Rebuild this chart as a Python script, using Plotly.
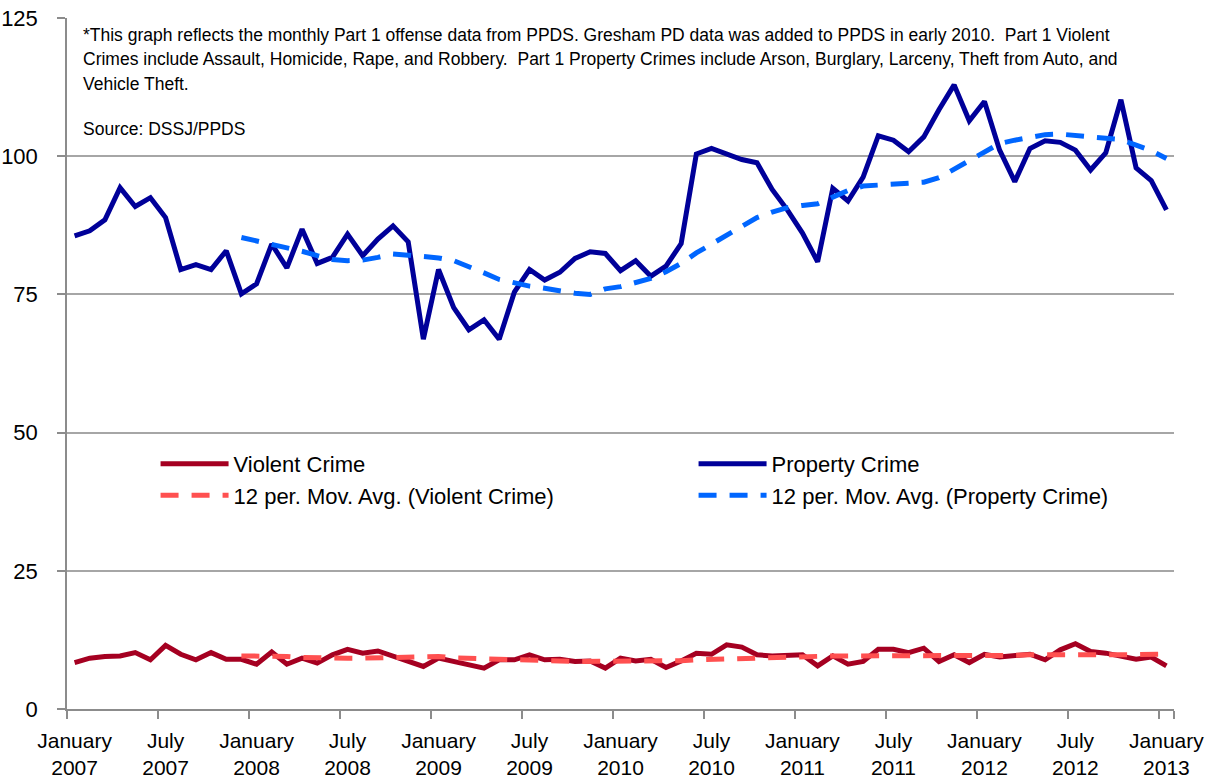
import plotly.graph_objects as go

# ---- data ----
years = list(range(2007, 2014))
month_names = ["January", "February", "March", "April", "May", "June", "July",
               "August", "September", "October", "November", "December"]
months = [f"{m} {y}" for y in years for m in month_names][:73]   # Jan 2007 .. Jan 2013

property_crime = [85.6, 86.5, 88.5, 94.3, 90.9, 92.5, 88.9, 79.5, 80.4, 79.5, 82.9, 75.1,
                  76.9, 84.1, 79.8, 86.8, 80.6, 81.7, 85.9, 82.0, 85.0, 87.4, 84.5, 66.9,
                  79.5, 72.6, 68.6, 70.4, 66.9, 75.4, 79.5, 77.6, 79.0, 81.5, 82.7, 82.4,
                  79.3, 81.1, 78.3, 80.1, 84.2, 100.4, 101.4, 100.5, 99.4, 98.8, 94.0, 90.3,
                  86.1, 80.9, 94.2, 91.9, 96.2, 103.7, 102.9, 100.8, 103.5, 108.4, 112.9, 106.4,
                  109.9, 101.1, 95.4, 101.4, 102.8, 102.5, 101.1, 97.5, 100.6, 110.2, 97.9, 95.6,
                  90.3]

violent_crime = [8.4, 9.2, 9.5, 9.6, 10.2, 8.9, 11.5, 9.9, 8.9, 10.2, 9.0, 9.0,
                 8.1, 10.3, 8.1, 9.2, 8.3, 9.8, 10.8, 10.1, 10.5, 9.6, 8.6, 7.7,
                 9.2, 8.6, 8.0, 7.4, 8.9, 8.9, 9.8, 8.9, 9.0, 8.6, 8.7, 7.4,
                 9.2, 8.7, 9.0, 7.5, 8.7, 10.1, 9.9, 11.6, 11.2, 9.8, 9.6, 9.6,
                 9.8, 7.8, 9.6, 8.1, 8.6, 10.8, 10.8, 10.2, 11.0, 8.6, 9.8, 8.4,
                 9.9, 9.4, 9.6, 9.9, 8.9, 10.7, 11.8, 10.4, 10.1, 9.5, 9.0, 9.4,
                 7.8]

# 12 period moving averages as drawn (start at December 2007)
property_ma = [85.3, 84.7, 84.1, 83.5, 82.8, 82.0, 81.3, 81.1, 81.2, 81.7, 82.3, 82.1,
               81.9, 81.6, 81.1, 80.1, 78.9, 77.7, 77.0, 76.5, 76.1, 75.6, 75.2, 75.0,
               76.0, 76.4, 77.1, 77.9, 79.1, 80.6, 82.5, 84.1, 85.8, 87.5, 88.9, 89.9,
               90.7, 91.1, 91.4, 92.6, 93.8, 94.6, 94.8, 94.8, 95.0, 95.3, 96.1, 97.7,
               99.1, 100.8, 102.3, 102.9, 103.5, 103.9, 104.0, 103.8, 103.6, 103.2, 103.0, 102.0,
               101.0, 99.6]
violent_ma = [9.6, 9.6, 9.6, 9.5, 9.3, 9.2, 9.2, 9.2, 9.2, 9.3, 9.35, 9.4,
              9.45, 9.5, 9.25, 9.2, 9.1, 9.0, 9.0, 9.0, 8.9, 8.7, 8.6, 8.6,
              8.6, 8.6, 8.6, 8.6, 8.7, 8.75, 8.9, 9.0, 9.1, 9.2, 9.25, 9.3,
              9.4, 9.55, 9.6, 9.6, 9.6, 9.6, 9.6, 9.6, 9.6, 9.6, 9.55, 9.5,
              9.5, 9.5, 9.55, 9.7, 9.8, 9.85, 9.9, 9.85, 9.8, 9.8, 9.85, 9.9,
              9.9, 9.9]
ma_months = months[11:]

tick_months = months[::6]
tick_text = [m.replace(" ", "<br>") for m in tick_months]
y_ticks = [0, 25, 50, 75, 100, 125]

note_lines = [
    "*This graph reflects the monthly Part 1 offense data from PPDS. Gresham PD data was added to PPDS in early 2010.\u00a0 Part 1 Violent",
    "Crimes include Assault, Homicide, Rape, and Robbery.\u00a0 Part 1 Property Crimes include Arson, Burglary, Larceny, Theft from Auto, and",
    "Vehicle Theft.",
    "Source: DSSJ/PPDS",
]
note_line_y = [0.975, 0.94, 0.905, 0.84]   # paper positions of each note line

FONT = "Liberation Sans, Arial, Helvetica, sans-serif"

fig = go.Figure()
fig.add_trace(go.Scatter(x=months, y=violent_crime, mode="lines", name="Violent Crime",
                         line=dict(color="#A50021", width=5), legend="legend"))
fig.add_trace(go.Scatter(x=ma_months, y=violent_ma, mode="lines",
                         name="12 per. Mov. Avg. (Violent Crime)",
                         line=dict(color="#FF5050", width=5, dash="18px,13px"), legend="legend"))
fig.add_trace(go.Scatter(x=months, y=property_crime, mode="lines", name="Property Crime",
                         line=dict(color="#000099", width=5), legend="legend2"))
fig.add_trace(go.Scatter(x=ma_months, y=property_ma, mode="lines",
                         name="12 per. Mov. Avg. (Property Crime)",
                         line=dict(color="#0066FF", width=5, dash="18px,13px"), legend="legend2"))

legend_style = dict(yanchor="top", xanchor="left", bgcolor="rgba(0,0,0,0)",
                    font=dict(family=FONT, size=22, color="black"),
                    tracegroupgap=0, itemwidth=68)

fig.update_layout(
    width=1208, height=780,
    margin=dict(l=67, r=34, t=18, b=71),
    paper_bgcolor="white", plot_bgcolor="white",
    font=dict(family=FONT, size=20, color="black"),
    showlegend=True,
    legend=dict(x=0.080, y=0.385, **legend_style),
    legend2=dict(x=0.566, y=0.385, **legend_style),
    xaxis=dict(type="category", categoryorder="array", categoryarray=months,
               range=[-0.5, 72.5], tickson="boundaries", automargin=False,
               tickvals=tick_months, ticktext=tick_text,
               ticks="outside", ticklen=8, tickwidth=1.5, tickcolor="#8C8C8C",
               ticklabelstandoff=12,
               showline=True, linecolor="#8C8C8C", linewidth=1.5,
               showgrid=False, zeroline=False,
               tickfont=dict(family=FONT, size=21, color="black"), tickangle=0),
    yaxis=dict(range=[0, 125], tickvals=y_ticks, ticks="outside", ticklen=8,
               automargin=False, ticklabeloverflow="allow",
               tickwidth=1.5, tickcolor="#8C8C8C", ticklabelstandoff=15,
               showline=True, linecolor="#8C8C8C", linewidth=1.5,
               showgrid=True, gridcolor="#A6A6A6", gridwidth=1.5, zeroline=False,
               tickfont=dict(family=FONT, size=22, color="black")),
)

for line, yp in zip(note_lines, note_line_y):
    fig.add_annotation(xref="paper", yref="paper", x=0.0125, y=yp,
                       xanchor="left", yanchor="middle", align="left", showarrow=False,
                       text=line, font=dict(family=FONT, size=17.5, color="black"))

# remove the browser's default page margin so the figure fills the window exactly
fig.write_html("out.html",
               config={"displayModeBar": False},
               post_script="document.body.style.margin='0';document.body.style.overflow='hidden';")
